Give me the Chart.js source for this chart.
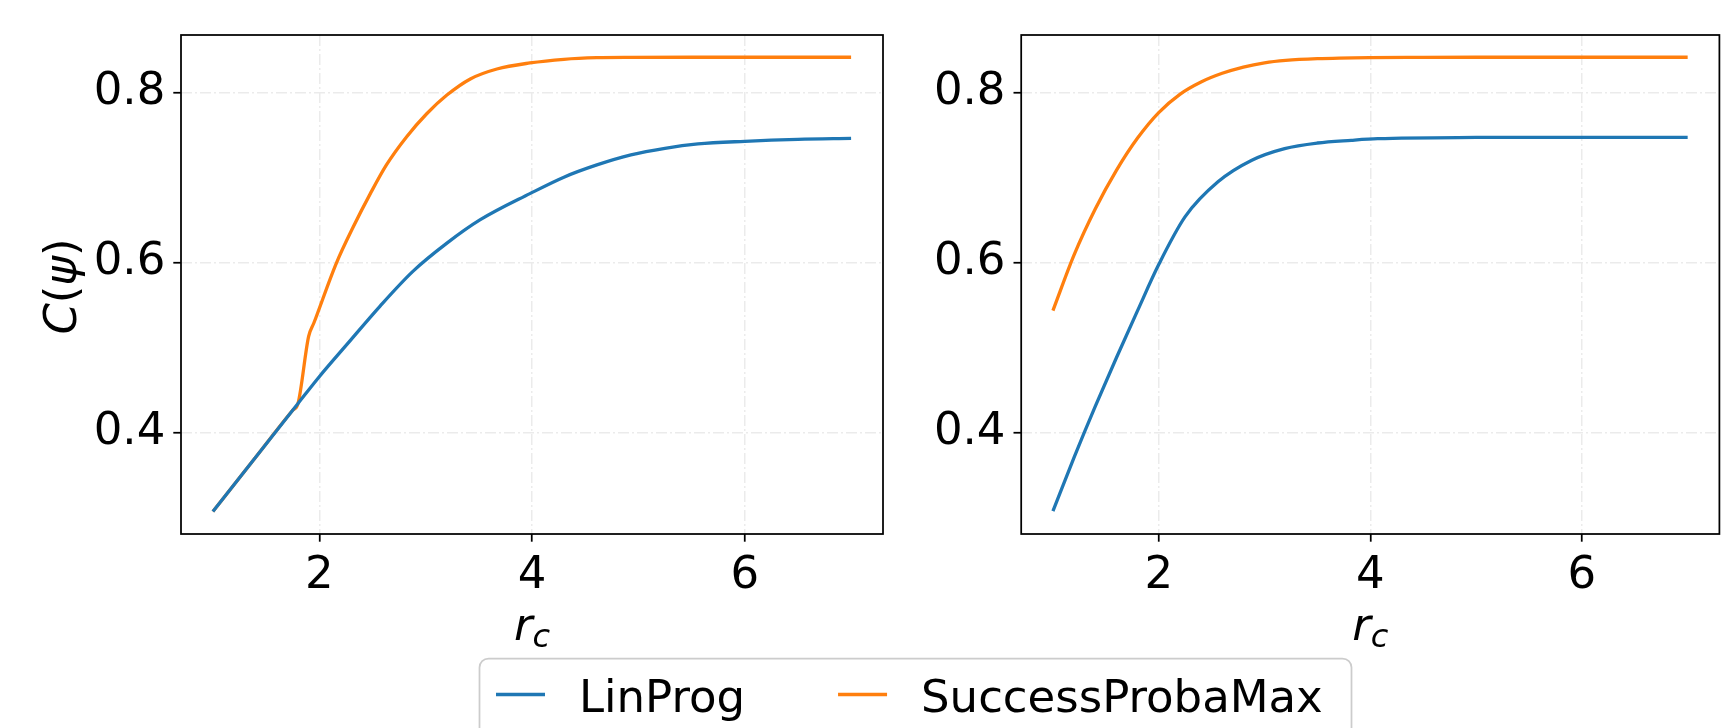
<!DOCTYPE html>
<html>
<head>
<meta charset="utf-8">
<script src="https://cdn.jsdelivr.net/npm/chart.js@4"></script>
<style>
  html, body { margin: 0; padding: 0; background: #fff; overflow: hidden; }
  #wrap { position: relative; width: 1728px; height: 728px; }
  .panel { position: absolute; left: 0; top: 0; width: 1728px; height: 728px; }
</style>
</head>
<body>
<div id="wrap">
  <div class="panel"><canvas id="left"></canvas></div>
  <div class="panel"><canvas id="right"></canvas></div>
</div>
<script>
// r_c positions and C(psi) values, one x list per curve
const leftLinProgX  = [1.0, 1.4, 1.8, 2.0, 2.26, 2.57, 2.88, 3.2, 3.51, 3.98, 4.3, 4.61, 4.93, 5.25, 5.56, 6.0, 6.5, 7.0]
const leftLinProg   = [0.307, 0.3705, 0.434, 0.4655, 0.5035, 0.5484, 0.5895, 0.6227, 0.65, 0.681, 0.7004, 0.7148, 0.7266, 0.7344, 0.7395, 0.7426, 0.7449, 0.746]
const leftSuccessX  = [1.0, 1.4, 1.75, 1.8, 1.9, 1.95, 2.16, 2.32, 2.48, 2.63, 2.82, 3.01, 3.2, 3.42, 3.67, 3.98, 4.3, 4.61, 4.93, 5.5, 6.0, 7.0]
const leftSuccess   = [0.307, 0.3705, 0.4261, 0.434, 0.513, 0.529, 0.599, 0.642, 0.681, 0.7145, 0.7477, 0.775, 0.797, 0.816, 0.8277, 0.8348, 0.8391, 0.841, 0.8414, 0.8415, 0.8415, 0.8415]

const rightLinProgX = [1.0, 1.2, 1.4, 1.6, 1.8, 2.0, 2.25, 2.56, 2.88, 3.19, 3.5, 3.82, 4.07, 5.0, 6.0, 7.0]
const rightLinProg  = [0.3074, 0.3705, 0.4305, 0.4878, 0.5433, 0.5975, 0.6539, 0.6949, 0.7203, 0.734, 0.7406, 0.7438, 0.7457, 0.7471, 0.7473, 0.7473]
const rightSuccessX = [1.0, 1.2, 1.4, 1.6, 1.8, 2.0, 2.2, 2.4, 2.6, 2.8, 3.0, 3.2, 3.5, 4.0, 4.5, 5.0, 6.0, 7.0]
const rightSuccess  = [0.5434, 0.6089, 0.6629, 0.7084, 0.7464, 0.7764, 0.7979, 0.8124, 0.8226, 0.830, 0.835, 0.8378, 0.8398, 0.8411, 0.8414, 0.8415, 0.8415, 0.8415]

const xTicks      = [2, 4, 6]
const xTickLabels = ["2", "4", "6"]
const yTicks      = [0.4, 0.6, 0.8]
const yTickLabels = ["0.4", "0.6", "0.8"]

const seriesLabels = ["LinProg", "SuccessProbaMax"]
const seriesColors = ["#1f77b4", "#ff7f0e"]

const FONT      = "'DejaVu Sans'"
const tickFont  = { family: FONT, size: 45 }
const gridColor = "#ebebeb"

const points = (xs, ys) => xs.map((x, i) => ({ x, y: ys[i] }))

const dataset = (i, xs, ys) => ({
  label: seriesLabels[i],
  data: points(xs, ys),
  borderColor: seriesColors[i],
  backgroundColor: seriesColors[i],
  borderWidth: 3.3,
  pointRadius: 0,
  fill: false,
  cubicInterpolationMode: "monotone"
})

const gridOpts = {
  color: gridColor,
  lineWidth: 1.5,
  borderDash: [11, 3, 2, 3],
  tickColor: "#000",
  tickLength: 7.7,
  tickWidth: 1.75,
  tickBorderDash: []
}

function scales(yWidth) {
  return {
    x: {
      type: "linear",
      min: 0.7,
      max: 7.3,
      afterBuildTicks: s => { s.ticks = xTicks.map(v => ({ value: v })) },
      afterFit: s => { s.height = 194 },
      ticks: { font: tickFont, color: "#000", padding: 8, maxRotation: 0, autoSkip: false,
               callback: (v, i) => xTickLabels[i] },
      grid: gridOpts,
      border: { display: false, dash: [11, 3, 2, 3] }
    },
    y: {
      type: "linear",
      min: 0.2804,
      max: 0.8677,
      afterBuildTicks: s => { s.ticks = yTicks.map(v => ({ value: v })) },
      afterFit: s => { s.width = yWidth },
      ticks: { font: tickFont, color: "#000", padding: 8, autoSkip: false,
               callback: (v, i) => yTickLabels[i] },
      grid: gridOpts,
      border: { display: false, dash: [11, 3, 2, 3] }
    }
  }
}

// black box round the plot area, like matplotlib spines
const framePlugin = {
  id: "frame",
  afterDatasetsDraw(chart) {
    const { ctx, chartArea: a } = chart
    ctx.save()
    ctx.strokeStyle = "#000"
    ctx.lineWidth = 1.75
    ctx.strokeRect(a.left, a.top, a.right - a.left, a.bottom - a.top)
    ctx.restore()
  }
}

// r_c under the x axis and C(psi) beside the y axis (mixed italic / upright)
const mathLabels = {
  id: "mathLabels",
  afterDraw(chart, args, opts) {
    const { ctx, chartArea: a } = chart
    const big   = `italic 45px ${FONT}`
    const small = `italic 32px ${FONT}`
    ctx.save()
    ctx.fillStyle = "#000"
    ctx.textBaseline = "alphabetic"
    ctx.textAlign = "left"

    ctx.font = big
    const wr = ctx.measureText("r").width
    ctx.font = small
    const wc = ctx.measureText("c").width
    const x0 = (a.left + a.right) / 2 - (wr + wc) / 2
    ctx.font = big
    ctx.fillText("r", x0, a.bottom + 106)
    ctx.font = small
    ctx.fillText("c", x0 + wr, a.bottom + 113)

    if (opts.yTitle) {
      const parts = [["C", big], ["(", `45px ${FONT}`], ["\u03C8", big], [")", `45px ${FONT}`]]
      const widths = parts.map(([t, f]) => { ctx.font = f; return ctx.measureText(t).width })
      const total = widths.reduce((s, w) => s + w, 0)
      ctx.translate(76, (a.top + a.bottom) / 2 + 2)
      ctx.rotate(-Math.PI / 2)
      let x = -total / 2
      parts.forEach(([t, f], i) => {
        ctx.font = f
        ctx.fillText(t, x, 0)
        x += widths[i]
      })
    }
    ctx.restore()
  }
}

// one legend under both panels
const figLegend = {
  id: "figLegend",
  afterDraw(chart) {
    const { ctx } = chart
    ctx.save()
    ctx.beginPath()
    ctx.roundRect(479.5, 658.5, 872, 120, 9)
    ctx.fillStyle = "rgba(255,255,255,0.8)"
    ctx.fill()
    ctx.strokeStyle = "#cccccc"
    ctx.lineWidth = 1.75
    ctx.stroke()

    ctx.font = `45px ${FONT}`
    ctx.textBaseline = "alphabetic"
    let x = 496
    chart.data.datasets.forEach(ds => {
      ctx.strokeStyle = ds.borderColor
      ctx.lineWidth = 3.3
      ctx.beginPath()
      ctx.moveTo(x, 694.5)
      ctx.lineTo(x + 49, 694.5)
      ctx.stroke()
      ctx.fillStyle = "#000"
      ctx.fillText(ds.label, x + 83, 712)
      x += 83 + ctx.measureText(ds.label).width + 93
    })
    ctx.restore()
  }
}

const baseOptions = {
  responsive: true,
  maintainAspectRatio: false,
  animation: false,
  devicePixelRatio: 1,
  events: []
}

new Chart(document.getElementById("left"), {
  type: "line",
  plugins: [framePlugin, mathLabels, figLegend],
  data: {
    datasets: [
      dataset(0, leftLinProgX, leftLinProg),
      dataset(1, leftSuccessX, leftSuccess)
    ]
  },
  options: {
    ...baseOptions,
    layout: { padding: { left: 0, right: 1728 - 883, top: 34, bottom: 0 } },
    plugins: { legend: { display: false }, tooltip: { enabled: false }, mathLabels: { yTitle: true } },
    scales: scales(181)
  }
})

new Chart(document.getElementById("right"), {
  type: "line",
  plugins: [framePlugin, mathLabels],
  data: {
    datasets: [
      dataset(0, rightLinProgX, rightLinProg),
      dataset(1, rightSuccessX, rightSuccess)
    ]
  },
  options: {
    ...baseOptions,
    layout: { padding: { left: 900, right: 1728 - 1719.4, top: 34, bottom: 0 } },
    plugins: { legend: { display: false }, tooltip: { enabled: false }, mathLabels: { yTitle: false } },
    scales: scales(121.2)
  }
})
</script>
</body>
</html>
